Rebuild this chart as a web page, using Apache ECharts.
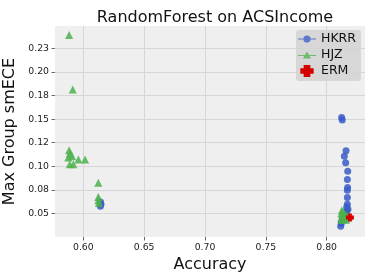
<!DOCTYPE html>
<html>
<head>
<meta charset="utf-8">
<script src="https://cdn.jsdelivr.net/npm/echarts@6/dist/echarts.min.js"></script>
<style>html,body{margin:0;padding:0;background:#fff;}#c{width:374px;height:280px;}</style>
</head>
<body>
<div id="c"></div>
<script>
var titleText = 'RandomForest on ACSIncome';
var xName = 'Accuracy';
var yName = 'Max Group smECE';
var seriesNames = ['HKRR', 'HJZ', 'ERM'];

var xTicks = [0.60, 0.65, 0.70, 0.75, 0.80];
var xTickLabels = ['0.60', '0.65', '0.70', '0.75', '0.80'];
var yTicks = [0.05, 0.075, 0.10, 0.125, 0.15, 0.175, 0.20, 0.225];
var yTickLabels = ['0.05', '0.08', '0.10', '0.12', '0.15', '0.18', '0.20', '0.23'];

var hkrr = [
  [0.8123, 0.1518], [0.8128, 0.1490], [0.8159, 0.1164], [0.8145, 0.1108],
  [0.8156, 0.1037], [0.8173, 0.0949], [0.8170, 0.0861], [0.8172, 0.0776],
  [0.8170, 0.0747], [0.8170, 0.0670], [0.8170, 0.0599], [0.8165, 0.0570],
  [0.8115, 0.0365], [0.8120, 0.0395], [0.8125, 0.0420], [0.8130, 0.0440],
  [0.8165, 0.0520], [0.8175, 0.0545],
  [0.6141, 0.0623], [0.6145, 0.0599], [0.6140, 0.0577]
];
var hjz = [
  [0.5883, 0.2391], [0.5913, 0.1815], [0.5883, 0.1171], [0.5890, 0.1136],
  [0.5876, 0.1094], [0.5908, 0.1108], [0.5888, 0.1023], [0.5918, 0.1023],
  [0.5959, 0.1073], [0.6014, 0.1073], [0.6123, 0.0825], [0.6123, 0.0676],
  [0.6123, 0.0641], [0.6128, 0.0612],
  [0.8125, 0.0535], [0.8135, 0.0520], [0.8120, 0.0500], [0.8140, 0.0490],
  [0.8155, 0.0480], [0.8130, 0.0470], [0.8165, 0.0470], [0.8120, 0.0450],
  [0.8150, 0.0455], [0.8175, 0.0460], [0.8185, 0.0475], [0.8140, 0.0440],
  [0.8160, 0.0435], [0.8125, 0.0430]
];
var erm = [[0.8191, 0.0458]];

var plusPath = 'path://M2.6,0 H7.4 V2.6 H10 V7.4 H7.4 V10 H2.6 V7.4 H0 V2.6 H2.6 Z';
var legLine = 'path://M0,5.4 H20 V6.6 H0 Z ';
var legCircle = legLine + 'M10,2 A4,4 0 1,1 9.99,2 Z';
var legTri = legLine + 'M10,1.5 L14.5,9.5 L5.5,9.5 Z';
var legPlus = 'path://M7.5,1.5 H12.5 V4 H15 V8 H12.5 V10.5 H7.5 V8 H5 V4 H7.5 Z';

function lbl(ticks, labels) {
  return function (v) {
    for (var i = 0; i < ticks.length; i++) {
      if (Math.abs(ticks[i] - v) < 1e-6) return labels[i];
    }
    return '';
  };
}

var chart = echarts.init(document.getElementById('c'), null, {renderer: 'canvas'});
chart.setOption({
  animation: false,
  backgroundColor: '#ffffff',
  textStyle: {fontFamily: 'DejaVu Sans'},
  title: {
    text: titleText, left: 210, top: 5, textAlign: 'center',
    textStyle: {fontFamily: 'DejaVu Sans', fontSize: 16, fontWeight: 'normal', color: '#111'}
  },
  grid: {left: 55, right: 9, top: 26, bottom: 43, show: true, backgroundColor: '#efefef', borderWidth: 0,
    containLabel: false, outerBoundsMode: 'none'},
  legend: {
    orient: 'vertical', left: 296, top: 30,
    backgroundColor: 'rgba(212,212,212,0.9)', borderRadius: 3,
    padding: [2, 5, 3, 2], itemGap: 2, itemWidth: 18, itemHeight: 12,
    textStyle: {fontFamily: 'DejaVu Sans', fontSize: 12.5, color: '#111', lineHeight: 14},
    data: [
      {name: seriesNames[0], icon: legCircle, itemStyle: {color: '#4a66cb'}},
      {name: seriesNames[1], icon: legTri, itemStyle: {color: '#5ab65a'}},
      {name: seriesNames[2], icon: legPlus, itemStyle: {color: '#d40000'}}
    ]
  },
  xAxis: {
    type: 'value', min: 0.5767, max: 0.8315, minInterval: 0.05, maxInterval: 0.05, splitNumber: 5,
    name: xName, nameLocation: 'middle', nameGap: 16,
    nameTextStyle: {fontFamily: 'DejaVu Sans', fontSize: 16, color: '#111'},
    axisLine: {show: false},
    axisTick: {show: true, customValues: xTicks, length: 3.5, lineStyle: {color: '#444', width: 0.8}},
    axisLabel: {customValues: xTicks, formatter: lbl(xTicks, xTickLabels), margin: 6,
      fontFamily: 'DejaVu Sans', fontSize: 9.3, color: '#222'},
    splitLine: {show: true, lineStyle: {color: '#d6d6d6', width: 1}}
  },
  yAxis: {
    type: 'value', min: 0.0251, max: 0.2487, minInterval: 0.025, maxInterval: 0.025, splitNumber: 9,
    name: yName, nameLocation: 'middle', nameGap: 32, nameRotate: 90,
    nameTextStyle: {fontFamily: 'DejaVu Sans', fontSize: 16, color: '#111'},
    axisLine: {show: false},
    axisTick: {show: true, customValues: yTicks, length: 3.5, lineStyle: {color: '#444', width: 0.8}},
    axisLabel: {customValues: yTicks, formatter: lbl(yTicks, yTickLabels), margin: 6,
      fontFamily: 'DejaVu Sans', fontSize: 9.3, color: '#222'},
    splitLine: {show: true, lineStyle: {color: '#d6d6d6', width: 1}}
  },
  series: [
    {name: seriesNames[0], type: 'scatter', data: hkrr, symbol: 'circle', symbolSize: 7,
      itemStyle: {color: '#3a5bc8', opacity: 0.85}},
    {name: seriesNames[1], type: 'scatter', data: hjz, symbol: 'triangle', symbolSize: 8,
      itemStyle: {color: '#4cb04c', opacity: 0.85}},
    {name: seriesNames[2], type: 'scatter', data: erm, symbol: plusPath, symbolSize: 8,
      itemStyle: {color: '#d40000', opacity: 1}}
  ]
});
</script>
</body>
</html>
